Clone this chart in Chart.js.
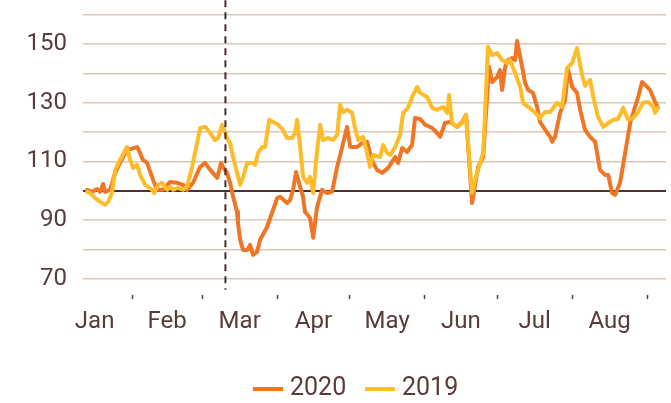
<!DOCTYPE html>
<html>
<head>
<meta charset="utf-8">
<script src="https://cdn.jsdelivr.net/npm/chart.js@4.4.0/dist/chart.umd.min.js"></script>
<style>
  body { margin: 0; background: #fff; }
  #wrap { position: relative; width: 671px; height: 403px; }
  .lg { position: absolute; font: 25px Roboto, sans-serif; line-height: 30px; color: #5a3b3b; top: 372px; white-space: nowrap; }
  .sw { position: absolute; width: 30px; height: 4px; top: 387px; }
</style>
</head>
<body>
<div id="wrap">
  <canvas id="newChart" width="671" height="403"></canvas>
  <span class="sw" style="left:253px;background:#ee7624"></span>
  <span class="lg" style="left:290px">2020</span>
  <span class="sw" style="left:365px;background:#fdbd2a"></span>
  <span class="lg" style="left:402px">2019</span>
</div>
<script>
// x values are day of year (1 Jan = 0)
const days2020 = [12.4,14.5,16.5,17.8,19.0,19.8,21.9,24.0,26.0,28.9,30.6,33.1,34.3,35.5,37.2,39.7,41.3,43.8,46.7,49.6,52.1,53.7,56.2,59.1,61.2,63.3,66.2,67.8,68.6,70.3,71.5,72.8,74.4,74.8,75.7,76.9,78.6,79.8,81.0,82.7,83.9,86.8,89.3,91.0,92.2,95.1,96.3,97.6,98.8,100.5,101.7,102.5,104.6,105.9,107.5,109.6,111.6,113.7,115.8,117.8,119.9,121.2,124.1,126.1,128.2,129.4,130.7,132.3,134.4,136.9,139.8,141.0,142.7,144.7,146.8,148.0,150.1,152.2,155.1,157.1,158.4,160.4,162.5,165.4,167.5,169.1,171.6,174.1,176.2,177.8,178.6,179.9,182.0,183.2,184.0,185.3,186.5,188.2,189.4,190.2,192.3,193.5,194.8,196.8,198.5,199.7,201.8,203.9,204.7,205.9,208.0,210.1,211.3,213.0,215.0,216.3,218.3,220.4,222.5,224.5,226.6,227.9,229.5,230.8,232.8,234.9,237.0,239.0,240.3,241.9,243.2,245.2,247.3,248.5];
const values2020 = [100.3,99.6,100.6,99.6,102.3,99.6,100.3,106.1,109.5,113.9,114.3,114.9,112.9,110.5,109.5,103.7,100.3,100.3,103.0,102.7,102.0,100.3,102.7,108.1,109.5,107.1,104.4,109.5,108.1,106.1,102.7,97.9,92.8,89.0,83.2,79.8,79.8,81.5,78.1,79.1,83.2,87.6,93.4,97.5,97.9,95.8,96.8,100.3,106.4,101.3,97.9,92.8,90.7,83.9,94.5,100.3,99.2,99.6,108.1,114.6,121.8,114.9,114.9,116.3,116.7,112.9,109.5,107.1,106.1,107.8,111.5,109.5,114.6,113.2,115.6,124.8,124.5,122.5,121.4,119.7,118.4,123.1,123.5,121.8,123.5,125.9,95.8,108.1,111.5,132.0,142.3,137.1,138.8,141.2,134.4,142.3,144.6,145.3,144.6,151.1,142.3,136.8,134.4,133.4,128.6,123.5,120.8,118.4,116.7,118.4,126.6,131.0,141.2,135.4,133.4,127.6,120.8,118.4,116.7,107.1,105.4,105.4,99.2,98.6,102.7,112.9,123.1,128.6,132.0,137.1,136.1,134.4,130.3,128.3];

const days2019 = [12.4,13.6,15.7,17.8,19.8,21.1,22.7,24.0,26.0,28.9,30.2,31.4,33.1,34.3,36.4,39.3,40.1,41.8,43.4,45.5,46.7,48.0,50.0,52.1,53.7,55.8,57.9,59.1,61.2,63.3,65.3,66.6,68.2,70.3,71.5,72.8,74.4,75.7,76.9,78.6,80.6,81.9,83.1,84.8,86.0,87.7,89.3,91.4,93.4,95.1,97.2,98.4,99.2,100.5,101.7,103.4,104.6,105.9,107.1,108.8,110.0,112.1,114.1,115.8,117.0,118.3,119.9,122.0,123.2,124.5,126.5,128.2,129.4,130.7,133.6,134.8,136.5,137.7,139.8,141.8,143.1,145.1,146.8,148.9,150.1,153.0,155.1,157.1,159.6,161.3,162.1,163.3,165.4,167.5,169.1,170.4,171.6,172.9,174.1,176.2,178.2,179.9,182.0,184.0,186.1,187.3,189.4,191.5,192.7,194.8,197.7,199.7,201.8,203.9,206.8,208.8,210.9,213.0,215.0,217.1,218.3,220.4,221.7,223.7,225.8,227.9,229.9,232.0,234.1,236.1,238.2,240.3,242.3,244.4,246.5,247.3,248.5];
const values2019 = [99.6,99.2,97.5,96.2,95.2,96.2,99.2,107.1,110.5,114.9,110.5,107.8,108.8,105.4,102.0,100.3,99.2,102.0,102.7,100.3,101.3,100.3,101.0,100.3,101.3,108.1,116.3,121.4,121.8,119.7,117.3,118.0,122.5,118.0,116.3,111.5,106.1,102.0,104.7,109.5,109.5,108.8,112.9,114.9,114.9,124.2,123.5,122.5,120.8,118.0,118.0,119.7,124.2,114.9,104.7,102.7,104.7,99.2,110.5,122.5,117.3,118.0,117.3,119.0,129.3,126.9,127.6,126.6,121.4,117.3,118.4,112.9,108.1,112.2,111.5,115.6,112.9,112.2,114.9,119.0,126.6,128.3,132.0,135.4,133.4,132.0,128.3,127.6,128.6,126.6,132.7,123.1,121.8,123.1,125.9,111.5,99.2,103.7,107.1,112.9,149.1,146.3,147.0,144.6,143.6,144.6,140.2,135.4,130.0,128.6,126.6,124.8,126.9,126.9,130.0,128.6,141.9,143.6,148.7,139.5,135.8,137.8,132.0,125.2,121.8,123.1,124.2,124.5,128.3,124.2,124.8,126.9,130.0,130.3,128.6,126.6,128.3];

const monthStarts = [31, 60, 91, 121, 152, 182, 213, 244];
const monthMids = [15.5, 45.5, 75.5, 106, 136.5, 167, 197.5, 228.5];
const monthNames = ["Jan", "Feb", "Mar", "Apr", "May", "Jun", "Jul", "Aug"];
const yTicks = [70, 80, 90, 100, 110, 120, 130, 140, 150, 160];
const markerDay = 69.6;

const xMin = 10.7, xMax = 251.8;
const textColor = "#5a3b3b";
const font = { family: "Roboto", size: 24 };

const zip = (xs, ys) => xs.map((x, i) => ({ x: x, y: ys[i] }));

// dashed vertical line
const markerLine = {
    id: "markerLine",
    afterDatasetsDraw(chart) {
        const { ctx, scales } = chart;
        const px = scales.x.getPixelForValue(markerDay);
        ctx.save();
        ctx.strokeStyle = "#4a2c2c";
        ctx.lineWidth = 2;
        ctx.setLineDash([7, 5]);
        ctx.beginPath();
        ctx.moveTo(px, scales.y.getPixelForValue(165));
        ctx.lineTo(px, scales.y.getPixelForValue(66.2));
        ctx.stroke();
        ctx.restore();
    },
};

const noPad = (s) => {
    s.paddingLeft = 0; s.paddingRight = 0; s.paddingTop = 0; s.paddingBottom = 0;
};

new Chart(document.getElementById("newChart"), {
    type: "line",
    data: {
        datasets: [
            {
                label: "2020",
                data: zip(days2020, values2020),
                borderColor: "#ee7624",
                borderWidth: 4,
                order: 1,
            },
            {
                label: "2019",
                data: zip(days2019, values2019),
                borderColor: "#fdbd2a",
                borderWidth: 4,
                order: 0,
            },
        ],
    },
    options: {
        responsive: false,
        animation: false,
        layout: { padding: { top: 0, right: 5, bottom: 0, left: 0 } },
        elements: {
            point: { radius: 0 },
            line: { tension: 0, borderJoinStyle: "round", borderCapStyle: "round" },
        },
        scales: {
            x: {
                type: "linear",
                position: "bottom",
                min: xMin,
                max: xMax,
                afterBuildTicks: (s) => { s.ticks = monthStarts.map((v) => ({ value: v })); },
                afterFit: (s) => { s.height = 4; noPad(s); },
                ticks: { display: false },
                grid: { drawOnChartArea: false, drawTicks: true, tickLength: 4, color: textColor, tickWidth: 1.5 },
                border: { display: false },
            },
            x2: {
                type: "linear",
                position: "bottom",
                min: xMin,
                max: xMax,
                afterBuildTicks: (s) => { s.ticks = monthMids.map((v) => ({ value: v })); },
                afterFit: (s) => { s.height = 104; noPad(s); },
                ticks: {
                    autoSkip: false,
                    maxRotation: 0,
                    padding: 1,
                    color: textColor,
                    font: font,
                    callback: (v) => monthNames[monthMids.indexOf(v)],
                },
                grid: { display: false },
                border: { display: false },
            },
            y: {
                min: 64.4,
                max: 165.1,
                afterBuildTicks: (s) => { s.ticks = yTicks.map((v) => ({ value: v })); },
                afterFit: (s) => { s.width = 83; noPad(s); },
                ticks: {
                    padding: 16,
                    color: textColor,
                    font: font,
                    callback: (v) => ((v - 70) % 20 === 0 ? String(v) : ""),
                },
                grid: {
                    drawTicks: false,
                    color: (c) => (c.tick && c.tick.value === 100 ? "#4d3030" : "#dcc6b4"),
                    lineWidth: (c) => (c.tick && c.tick.value === 100 ? 2 : 1.5),
                },
                border: { display: false },
            },
        },
        plugins: {
            legend: { display: false },
            tooltip: { enabled: false },
        },
    },
    plugins: [markerLine],
});
</script>
</body>
</html>
